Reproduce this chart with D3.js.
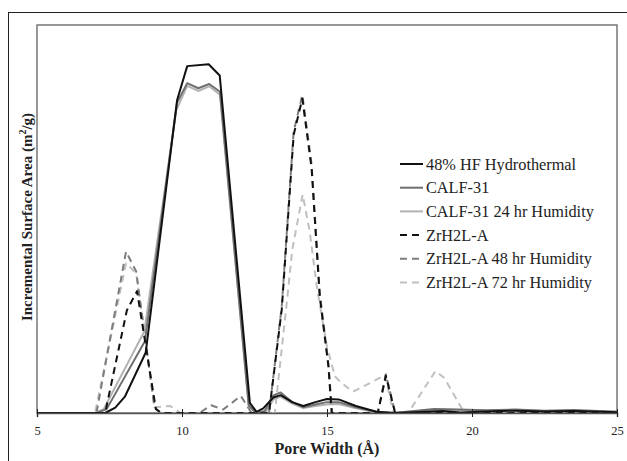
<!DOCTYPE html>
<html>
<head>
<meta charset="utf-8">
<script src="https://cdn.jsdelivr.net/npm/d3@7"></script>
<style>
    body { margin: 0; background: #fff; }
    svg { display: block; font-family: "Times New Roman", "Liberation Serif", serif; }
</style>
</head>
<body>
<svg id="chart" width="627" height="461"></svg>
<script>
// pore width (Å) / incremental surface area (relative units)
const hf48 = [[5,0],[7.35,0],[7.7,1.4],[8.03,4.2],[8.75,15.6],[9.83,80.6],[10.18,89.4],[10.92,89.9],[11.3,87],
    [12.34,2.6],[12.57,0.3],[12.8,1.2],[13.15,4],[13.4,4.6],[13.8,2.8],[14.18,1.8],[14.6,2.8],[15.0,3.6],
    [15.4,3.5],[16.0,1.8],[16.7,0.3],[17.3,0],[18,0.2],[19,0.5],[19.6,0.1],[20.5,0.4],[21.5,0.6],[22.5,0.4],
    [23.5,0.5],[25,0.2]];
const calf31 = [[5,0],[7.05,0],[7.4,1],[8.72,18.5],[9.83,80],[10.18,85],[10.56,83.7],[10.94,84.8],[11.31,82.8],
    [12.3,2],[12.55,0],[12.85,0.5],[13.15,4.5],[13.4,5.3],[13.8,2.8],[14.18,1.5],[14.6,2.2],[15.0,2.8],
    [15.4,2.8],[16.0,1.5],[16.7,0.3],[17.3,0],[18,0.5],[18.7,1.0],[19.5,0.9],[20.5,0.7],[21.5,0.9],[22.5,0.6],
    [23.5,0.8],[25,0.3]];
const calf31Hum24 = [[5,0],[7.0,0],[7.3,1],[8.7,21],[9.8,78],[10.18,84.3],[10.56,83],[10.94,84.2],[11.31,82],
    [12.3,1.8],[12.55,0],[12.9,0.3],[13.15,3.5],[13.4,4.2],[13.8,2.4],[14.18,1.3],[14.6,1.8],[15,2.2],
    [15.4,2.3],[16,1.2],[16.7,0.2],[17.3,0],[18,0.4],[18.7,0.9],[19.5,0.8],[20.5,0.6],[21.5,0.7],[22.5,0.5],
    [23.5,0.6],[25,0.3]];
const zrA = [[5,0],[7.35,0],[8.1,26.5],[8.45,31.4],[9.1,1],[9.3,0],[13.0,0],[13.44,26.7],[13.85,71.7],
    [14.15,81],[14.47,63],[14.75,30],[15.05,12],[15.16,0],[16.75,0],[17.03,9.6],[17.35,0],[25,0]];
const zrAHum48 = [[5,0],[7.05,0],[8.07,41.6],[8.42,36.5],[9.05,1.5],[9.25,0],[10.6,0],[11.0,2.0],[11.42,0.9],
    [12.03,4.4],[12.4,0],[13.0,0],[13.44,27.5],[13.85,72.5],[14.15,82],[14.47,64],[14.75,31],[15.05,12.5],
    [15.18,0],[16.75,0],[17.03,10],[17.35,0],[25,0]];
const zrAHum72 = [[5,0],[7.0,0],[8.07,38.6],[8.42,36],[9.05,1.5],[9.6,1.8],[9.95,0],[13.2,0],[13.65,31],
    [13.8,42],[14.16,56.3],[14.4,47],[14.64,33],[15.0,17],[15.28,9.4],[15.5,7.7],[15.9,5.5],[16.48,7.7],
    [17.0,9.8],[17.29,0],[17.8,0],[18.74,10.8],[19.05,9],[19.7,0.5],[20,0],[25,0]];

const seriesNames = ['48% HF Hydrothermal', 'CALF-31', 'CALF-31 24 hr Humidity',
    'ZrH2L-A', 'ZrH2L-A 48 hr Humidity', 'ZrH2L-A 72 hr Humidity'];
const xTicks = [5, 10, 15, 20, 25];

const series = [
    {name: seriesNames[0], values: hf48, color: '#111', dash: null},
    {name: seriesNames[1], values: calf31, color: '#6f6f6f', dash: null},
    {name: seriesNames[2], values: calf31Hum24, color: '#b2b2b2', dash: null},
    {name: seriesNames[3], values: zrA, color: '#111', dash: '7,5'},
    {name: seriesNames[4], values: zrAHum48, color: '#7d7d7d', dash: '7,5'},
    {name: seriesNames[5], values: zrAHum72, color: '#c0c0c0', dash: '7,5'}
];

const margin = ({top: 25, right: 10, bottom: 48, left: 37});
const width = 627;
const height = 461;

const svg = d3.select('#chart');

// outer frame
svg.append('rect')
    .attr('x', 8.5).attr('y', 12.5)
    .attr('width', 700).attr('height', 600)
    .attr('fill', 'none').attr('stroke', '#222').attr('stroke-width', 1);

const xScale = d3.scaleLinear()
    .domain([5, 25])
    .range([margin.left, width - margin.right]);

const yScale = d3.scaleLinear()
    .domain([0, 100])
    .range([height - margin.bottom, margin.top]);

// plot frame
svg.append('rect')
    .attr('x', xScale(5)).attr('y', yScale(100))
    .attr('width', xScale(25) - xScale(5)).attr('height', yScale(0) - yScale(100))
    .attr('fill', 'none').attr('stroke', '#777').attr('stroke-width', 1.5);

const line = d3.line()
    .x(d => xScale(d[0]))
    .y(d => yScale(d[1]));

// lighter series first, black on top
const drawOrder = [5, 4, 2, 1, 3, 0];
svg.append('g')
    .selectAll('path')
    .data(drawOrder.map(i => series[i]))
    .join('path')
    .attr('d', d => line(d.values))
    .attr('fill', 'none')
    .attr('stroke', d => d.color)
    .attr('stroke-width', 2)
    .attr('stroke-dasharray', d => d.dash)
    .attr('stroke-linejoin', 'round');

const xAxis = g => g
    .attr('transform', `translate(0, ${yScale(0)})`)
    .call(d3.axisBottom(xScale).tickValues(xTicks).tickFormat(d3.format('d')).tickSize(4).tickPadding(9))
    .call(g => g.select('.domain').attr('stroke', '#555').attr('stroke-width', 1.5))
    .call(g => g.selectAll('.tick line').attr('y1', -4).attr('stroke', '#222'))
    .call(g => g.selectAll('.tick text')
        .attr('font-family', '"Times New Roman", "Liberation Serif", serif')
        .attr('font-size', 12.5).attr('fill', '#222'));

svg.append('g').call(xAxis);

svg.append('text')
    .attr('x', xScale(15)).attr('y', 454)
    .attr('text-anchor', 'middle')
    .attr('font-size', 16).attr('font-weight', 'bold').attr('fill', '#222')
    .text('Pore Width (Å)');

const yTitle = svg.append('text')
    .attr('transform', `translate(32, ${(yScale(0) + yScale(100)) / 2 - 2}) rotate(-90)`)
    .attr('text-anchor', 'middle')
    .attr('font-size', 15).attr('font-weight', 'bold').attr('fill', '#222');
yTitle.append('tspan').text('Incremental Surface Area (m');
yTitle.append('tspan').attr('font-size', 10).attr('dy', -6).text('2');
yTitle.append('tspan').attr('dy', 6).text('/g)');

// legend
const legend = svg.append('g')
    .selectAll('g')
    .data(series)
    .join('g')
    .attr('transform', (d, i) => `translate(400, ${164 + i * 23.7})`);

legend.append('line')
    .attr('x1', 0).attr('x2', 23)
    .attr('stroke', d => d.color)
    .attr('stroke-width', 2)
    .attr('stroke-dasharray', d => d.dash);

legend.append('text')
    .attr('x', 26).attr('y', 5.5)
    .attr('font-size', 16.3).attr('fill', '#222')
    .text(d => d.name);
</script>
</body>
</html>
